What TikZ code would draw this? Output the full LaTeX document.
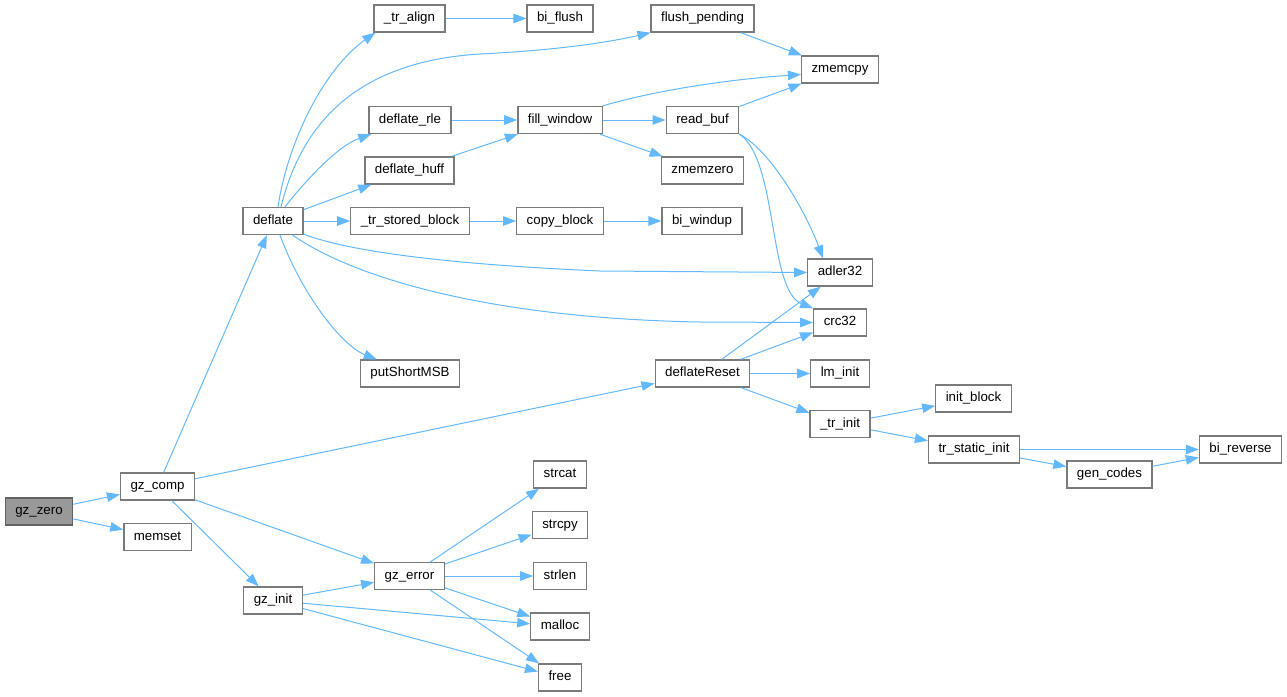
\documentclass[tikz,border=0pt]{standalone}
\usepackage{fontspec}
\setmainfont{Liberation Sans}
\usepackage{tikz}
\usetikzlibrary{arrows.meta}

\definecolor{callblue}{HTML}{63B8FF}
\definecolor{boxline}{HTML}{7A7A7A}
\definecolor{rootfill}{HTML}{999999}

\begin{document}
\begin{tikzpicture}[x=1pt,y=-1pt,
    fn/.style={draw=boxline, line width=1.3pt, fill=white, inner xsep=10pt, inner ysep=0pt,
      minimum height=27pt, text height=9.6pt, text depth=2.8pt, font=\fontsize{13.3}{16}\selectfont},
    root/.style={fn, fill=rootfill, draw=boxline!80!black},
    call/.style={draw=callblue, line width=1pt, -{Triangle[length=13pt,width=9.5pt]}}]
        \useasboundingbox (0,0) rectangle (1287,696);

        % Caller side
        \node[root] (gz-zero) at (39,511.5) {gz\_zero};
        \node[fn] (gz-comp) at (157.5,486.5) {gz\_comp};
        \node[fn] (memset) at (157.5,537) {memset};
        \node[fn] (gz-init) at (273,600.5) {gz\_init};
        \node[fn] (deflate) at (273,221) {deflate};

        % Third column
        \node[fn] (tr-align) at (409.5,18.5) {\_tr\_align};
        \node[fn] (deflate-rle) at (410,120) {deflate\_rle};
        \node[fn] (deflate-huff) at (409.5,170.5) {deflate\_huff};
        \node[fn] (tr-stored-block) at (410,221) {\_tr\_stored\_block};
        \node[fn] (putShortMSB) at (410,373.5) {putShortMSB};
        \node[fn] (gz-error) at (409.5,576) {gz\_error};

        % Fourth column
        \node[fn] (bi-flush) at (560,18.5) {bi\_flush};
        \node[fn] (fill-window) at (560,120) {fill\_window};
        \node[fn] (copy-block) at (560,221) {copy\_block};
        \node[fn] (strcat) at (560,474.5) {strcat};
        \node[fn] (strcpy) at (560,525) {strcpy};
        \node[fn] (strlen) at (560,576) {strlen};
        \node[fn] (malloc) at (560,626.5) {malloc};
        \node[fn] (free) at (560,677.5) {free};

        % Fifth column
        \node[fn] (flush-pending) at (702.5,18.5) {flush\_pending};
        \node[fn] (read-buf) at (702.5,120) {read\_buf};
        \node[fn] (zmemzero) at (702.5,170.5) {zmemzero};
        \node[fn] (bi-windup) at (702,221) {bi\_windup};
        \node[fn] (deflateReset) at (702.5,373.5) {deflateReset};

        % Sixth column
        \node[fn] (zmemcpy) at (840,69.5) {zmemcpy};
        \node[fn] (adler32) at (840,272.5) {adler32};
        \node[fn] (crc32) at (840,322.5) {crc32};
        \node[fn] (lm-init) at (840,373.5) {lm\_init};
        \node[fn] (tr-init) at (840,424) {\_tr\_init};

        % Right end
        \node[fn] (init-block) at (973.5,398.5) {init\_block};
        \node[fn] (tr-static-init) at (974,449.5) {tr\_static\_init};
        \node[fn] (gen-codes) at (1109.5,474.5) {gen\_codes};
        \node[fn] (bi-reverse) at (1240.5,449.5) {bi\_reverse};

        % gz_zero and gz_comp
        \draw[call] (gz-zero) -- (gz-comp);
        \draw[call] (gz-zero) -- (memset);
        \draw[call] (gz-comp) -- (deflate);
        \draw[call] (gz-comp) -- (deflateReset);
        \draw[call] (gz-comp) -- (gz-error);
        \draw[call] (gz-comp) -- (gz-init);

        % gz_init and gz_error
        \draw[call] (gz-init) -- (gz-error);
        \draw[call] (gz-init) -- (malloc);
        \draw[call] (gz-init) -- (free);
        \draw[call] (gz-error) -- (strcat);
        \draw[call] (gz-error) -- (strcpy);
        \draw[call] (gz-error) -- (strlen);
        \draw[call] (gz-error) -- (malloc);
        \draw[call] (gz-error) -- (free);

        % deflate
        \draw[call] ([xshift=5pt]deflate.north) .. controls (288,140) and (325,68) .. ([xshift=2pt]tr-align.south west);
        \draw[call] ([xshift=8pt]deflate.north) .. controls (300,130) and (350,62) .. (480,54)
            .. controls (560,50) and (610,42) .. (flush-pending.south west);
        \draw[call] ([xshift=12pt]deflate.north) .. controls (310,175) and (340,145) .. ([xshift=3pt]deflate-rle.south west);
        \draw[call] (deflate) -- (deflate-huff);
        \draw[call] (deflate) -- (tr-stored-block);
        \draw[call] ([yshift=1pt]deflate.south east) .. controls (340,248) and (420,263) .. (600,271) -- (adler32.west);
        \draw[call] ([xshift=-11pt]deflate.south east) .. controls (350,275) and (480,318) .. (700,322) -- (crc32.west);
        \draw[call] ([xshift=7pt]deflate.south) .. controls (300,290) and (340,345) .. ([xshift=17pt]putShortMSB.north west);

        % second level
        \draw[call] (tr-align) -- (bi-flush);
        \draw[call] (flush-pending) -- (zmemcpy);
        \draw[call] (deflate-rle) -- (fill-window);
        \draw[call] (deflate-huff) -- (fill-window);
        \draw[call] (tr-stored-block) -- (copy-block);
        \draw[call] (copy-block) -- (bi-windup);
        \draw[call] (fill-window.north east) .. controls (650,92) and (720,80) .. ([yshift=-5pt]zmemcpy.west);
        \draw[call] (fill-window) -- (read-buf);
        \draw[call] (fill-window) -- (zmemzero);
        \draw[call] (read-buf) -- (zmemcpy);
        \draw[call] (read-buf.south east) .. controls (770,150) and (805,210) .. ([xshift=-17pt]adler32.north);
        \draw[call] (read-buf.south east) .. controls (778,160) and (768,290) .. (crc32.north west);

        % deflateReset
        \draw[call] (deflateReset) -- (adler32);
        \draw[call] (deflateReset) -- (crc32);
        \draw[call] (deflateReset) -- (lm-init);
        \draw[call] (deflateReset) -- (tr-init);
        \draw[call] (tr-init) -- (init-block);
        \draw[call] (tr-init) -- (tr-static-init);
        \draw[call] (tr-static-init) -- (bi-reverse);
        \draw[call] (tr-static-init) -- (gen-codes);
        \draw[call] (gen-codes) -- (bi-reverse);
    \end{tikzpicture}
\end{document}
